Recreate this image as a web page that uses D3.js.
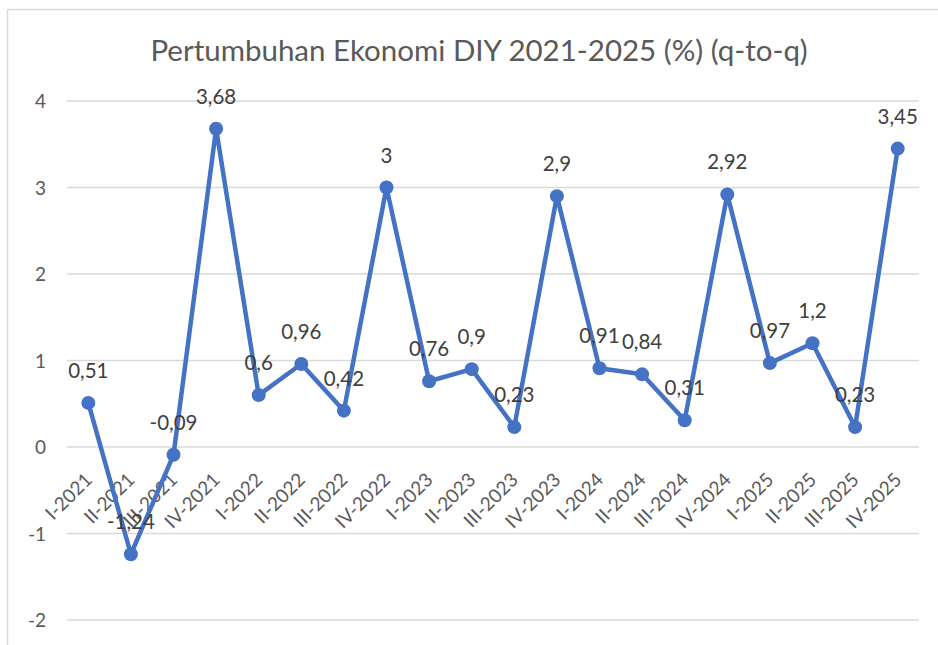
<!DOCTYPE html>
<html><head><meta charset="utf-8">
<script src="https://cdn.jsdelivr.net/npm/d3@7"></script>
<style>html,body{margin:0;padding:0;background:#fff;}svg{display:block;}</style>
</head><body>
<script>
const categories = ["I-2021","II-2021","III-2021","IV-2021","I-2022","II-2022","III-2022","IV-2022","I-2023","II-2023","III-2023","IV-2023","I-2024","II-2024","III-2024","IV-2024","I-2025","II-2025","III-2025","IV-2025"];
const values = [0.51,-1.24,-0.09,3.68,0.6,0.96,0.42,3,0.76,0.9,0.23,2.9,0.91,0.84,0.31,2.92,0.97,1.2,0.23,3.45];
const labels = ["0,51","-1,24","-0,09","3,68","0,6","0,96","0,42","3","0,76","0,9","0,23","2,9","0,91","0,84","0,31","2,92","0,97","1,2","0,23","3,45"];
const yTicks = [-2,-1,0,1,2,3,4];
const title = "Pertumbuhan Ekonomi DIY 2021-2025 (%) (q-to-q)";

const W = 938, H = 645;
const font = "Lato, 'Open Sans', sans-serif";
const svg = d3.select("body").append("svg").attr("width", W).attr("height", H);
svg.append("rect").attr("x", 7.5).attr("y", 9.5).attr("width", W + 10).attr("height", H + 10)
  .attr("fill", "#fff").attr("stroke", "#d9d9d9").attr("stroke-width", 1.5);

const x = d3.scaleBand().domain(categories).range([67, 919]);
const y = d3.scaleLinear().domain([-2, 4]).range([620, 101]);

svg.append("text").attr("x", 479).attr("y", 61).attr("text-anchor", "middle")
  .attr("font-family", font).attr("font-size", 29.5).attr("fill", "#595959").text(title);

// grid
svg.append("g").selectAll("line").data(yTicks).join("line")
  .attr("x1", 67).attr("x2", 919).attr("y1", d => y(d)).attr("y2", d => y(d))
  .attr("stroke", "#d9d9d9").attr("stroke-width", 1.5);

// y axis
const yAxis = d3.axisLeft(y).tickValues(yTicks).tickSize(0).tickPadding(0).tickFormat(d => d);
const gy = svg.append("g").attr("transform", "translate(46,0)").call(yAxis);
gy.select(".domain").remove();
gy.selectAll("text").attr("font-family", font).attr("font-size", 19).attr("fill", "#595959").attr("text-anchor", "end").attr("dy", "0.35em");

// x axis at 0
const xAxis = d3.axisBottom(x).tickSize(0).tickPadding(0);
const gx = svg.append("g").attr("transform", `translate(0,${y(0)})`).call(xAxis);
gx.select(".domain").remove();
gx.selectAll("text").attr("font-family", font).attr("font-size", 19).attr("fill", "#595959")
  .attr("text-anchor", "end").attr("dy", null).attr("y", 0)
  .attr("transform", "translate(5,34) rotate(-45)");

const cx = d => x(d) + x.bandwidth() / 2;
const line = d3.line().x((d, i) => cx(categories[i])).y(d => y(d));
svg.append("path").datum(values).attr("d", line).attr("fill", "none")
  .attr("stroke", "#4472C4").attr("stroke-width", 4.5).attr("stroke-linejoin", "round");
svg.append("g").selectAll("circle").data(values).join("circle")
  .attr("cx", (d, i) => cx(categories[i])).attr("cy", d => y(d)).attr("r", 7).attr("fill", "#4472C4");

svg.append("g").selectAll("text").data(values).join("text")
  .attr("x", (d, i) => cx(categories[i])).attr("y", d => y(d) - 25)
  .attr("text-anchor", "middle").attr("font-family", font).attr("font-size", 20.5).attr("fill", "#404040")
  .text((d, i) => labels[i]);
</script>
</body></html>
